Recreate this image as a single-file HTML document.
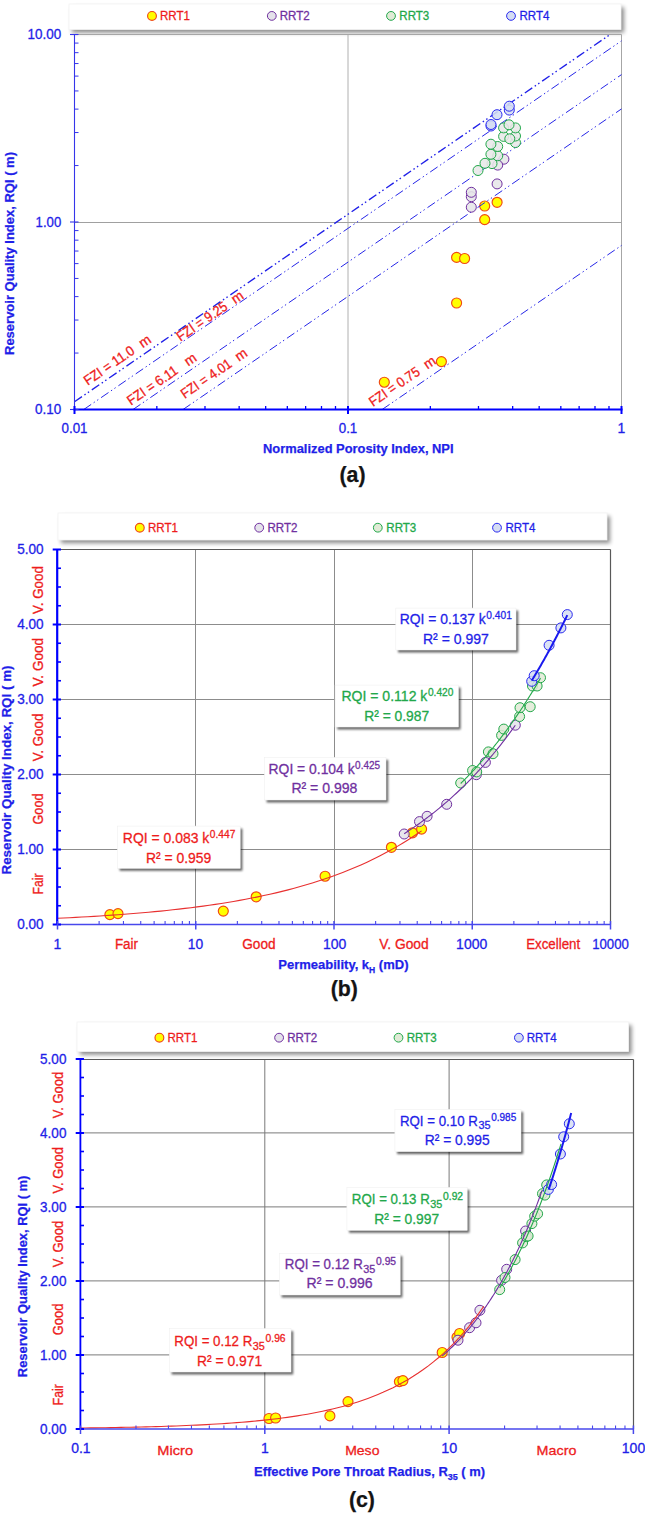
<!DOCTYPE html><html><head><meta charset="utf-8"><style>html,body{margin:0;padding:0;background:#fff;}svg{display:block;}text{font-family:"Liberation Sans",sans-serif;}</style></head><body>
<svg width="645" height="1514" viewBox="0 0 645 1514">
<defs><filter id="sh" x="-5%" y="-50%" width="110%" height="200%"><feGaussianBlur stdDeviation="2"/></filter><filter id="sh2" x="-20%" y="-50%" width="140%" height="200%"><feGaussianBlur stdDeviation="1.3"/></filter></defs>
<rect width="645" height="1514" fill="#fff"/>
<rect x="72.00" y="7.20" width="552.00" height="25.50" fill="#000" opacity="0.45" filter="url(#sh)"/>
<rect x="69.00" y="4.00" width="552.00" height="25.50" fill="#fff" stroke="#f3f3f3" stroke-width="0.8"/>
<circle cx="152.00" cy="15.90" r="4.4" fill="#ffff00" stroke="#f04a14" stroke-width="1.15"/>
<text x="160.00" y="20.20" font-size="13" fill="#ee1c1c" text-anchor="start" stroke="#ee1c1c" stroke-width="0.3" textLength="30.00" lengthAdjust="spacingAndGlyphs">RRT1</text>
<circle cx="271.80" cy="15.90" r="4.4" fill="#e4e2ea" stroke="#7030a0" stroke-width="1"/>
<text x="279.70" y="20.20" font-size="13" fill="#7030a0" text-anchor="start" stroke="#7030a0" stroke-width="0.3" textLength="30.00" lengthAdjust="spacingAndGlyphs">RRT2</text>
<circle cx="391.00" cy="15.90" r="4.4" fill="#e0ead6" stroke="#22a84a" stroke-width="1"/>
<text x="399.30" y="20.20" font-size="13" fill="#22a84a" text-anchor="start" stroke="#22a84a" stroke-width="0.3" textLength="30.00" lengthAdjust="spacingAndGlyphs">RRT3</text>
<circle cx="511.00" cy="15.90" r="4.4" fill="#d5ddf2" stroke="#2a2af0" stroke-width="1"/>
<text x="519.40" y="20.20" font-size="13" fill="#1f1fe8" text-anchor="start" stroke="#1f1fe8" stroke-width="0.3" textLength="30.00" lengthAdjust="spacingAndGlyphs">RRT4</text>
<line x1="348.00" y1="34.50" x2="348.00" y2="409.50" stroke="#b0b0b0" stroke-width="1"/>
<line x1="74.50" y1="222.50" x2="621.50" y2="222.50" stroke="#a0a0a0" stroke-width="1"/>
<line x1="621.50" y1="34.50" x2="621.50" y2="409.50" stroke="#a6a6a6" stroke-width="1"/>
<line x1="74.50" y1="34.50" x2="621.50" y2="34.50" stroke="#a6a6a6" stroke-width="1"/>
<circle cx="384.30" cy="382.20" r="5.0" fill="#ffff00" stroke="#f04a14" stroke-width="1.15"/>
<circle cx="441.40" cy="361.60" r="5.0" fill="#ffff00" stroke="#f04a14" stroke-width="1.15"/>
<circle cx="456.60" cy="303.00" r="5.0" fill="#ffff00" stroke="#f04a14" stroke-width="1.15"/>
<circle cx="456.60" cy="257.40" r="5.0" fill="#ffff00" stroke="#f04a14" stroke-width="1.15"/>
<circle cx="464.60" cy="258.50" r="5.0" fill="#ffff00" stroke="#f04a14" stroke-width="1.15"/>
<circle cx="484.70" cy="219.60" r="5.0" fill="#ffff00" stroke="#f04a14" stroke-width="1.15"/>
<circle cx="484.70" cy="206.00" r="5.0" fill="#ffff00" stroke="#f04a14" stroke-width="1.15"/>
<circle cx="497.10" cy="202.30" r="5.0" fill="#ffff00" stroke="#f04a14" stroke-width="1.15"/>
<line x1="74.50" y1="401.74" x2="610.18" y2="34.50" stroke="#2020e8" stroke-width="1.35" stroke-dasharray="9 3 1.5 2.7 1.5 3.3"/>
<line x1="83.76" y1="409.50" x2="621.50" y2="40.85" stroke="#2626e8" stroke-width="1.0" stroke-dasharray="9 3 1.4 2.8 1.4 3.4"/>
<line x1="133.02" y1="409.50" x2="621.50" y2="74.62" stroke="#2626e8" stroke-width="1.0" stroke-dasharray="9 3 1.4 2.8 1.4 3.4"/>
<line x1="183.04" y1="409.50" x2="621.50" y2="108.91" stroke="#2626e8" stroke-width="1.0" stroke-dasharray="9 3 1.4 2.8 1.4 3.4"/>
<line x1="382.17" y1="409.50" x2="621.50" y2="245.43" stroke="#2626e8" stroke-width="1.0" stroke-dasharray="9 3 1.4 2.8 1.4 3.4"/>
<circle cx="503.90" cy="159.20" r="5.0" fill="#e6e6e8" stroke="#7030a0" stroke-width="1" fill-opacity="0.88"/>
<circle cx="497.70" cy="165.10" r="5.0" fill="#e6e6e8" stroke="#7030a0" stroke-width="1" fill-opacity="0.88"/>
<circle cx="497.10" cy="183.90" r="5.0" fill="#e6e6e8" stroke="#7030a0" stroke-width="1" fill-opacity="0.88"/>
<circle cx="471.30" cy="207.20" r="5.0" fill="#e6e6e8" stroke="#7030a0" stroke-width="1" fill-opacity="0.88"/>
<circle cx="471.30" cy="196.70" r="5.0" fill="#e6e6e8" stroke="#7030a0" stroke-width="1" fill-opacity="0.88"/>
<circle cx="471.30" cy="192.30" r="5.0" fill="#e6e6e8" stroke="#7030a0" stroke-width="1" fill-opacity="0.88"/>
<circle cx="478.00" cy="170.50" r="5.0" fill="#e8e8e8" stroke="#22a84a" stroke-width="1" fill-opacity="0.88"/>
<circle cx="492.00" cy="163.60" r="5.0" fill="#e8e8e8" stroke="#22a84a" stroke-width="1" fill-opacity="0.88"/>
<circle cx="485.00" cy="163.30" r="5.0" fill="#e8e8e8" stroke="#22a84a" stroke-width="1" fill-opacity="0.88"/>
<circle cx="497.70" cy="155.80" r="5.0" fill="#e8e8e8" stroke="#22a84a" stroke-width="1" fill-opacity="0.88"/>
<circle cx="490.90" cy="154.30" r="5.0" fill="#e8e8e8" stroke="#22a84a" stroke-width="1" fill-opacity="0.88"/>
<circle cx="497.70" cy="146.50" r="5.0" fill="#e8e8e8" stroke="#22a84a" stroke-width="1" fill-opacity="0.88"/>
<circle cx="490.90" cy="144.20" r="5.0" fill="#e8e8e8" stroke="#22a84a" stroke-width="1" fill-opacity="0.88"/>
<circle cx="515.50" cy="142.60" r="5.0" fill="#e8e8e8" stroke="#22a84a" stroke-width="1" fill-opacity="0.88"/>
<circle cx="515.50" cy="136.00" r="5.0" fill="#e8e8e8" stroke="#22a84a" stroke-width="1" fill-opacity="0.88"/>
<circle cx="503.60" cy="136.40" r="5.0" fill="#e8e8e8" stroke="#22a84a" stroke-width="1" fill-opacity="0.88"/>
<circle cx="509.80" cy="138.80" r="5.0" fill="#e8e8e8" stroke="#22a84a" stroke-width="1" fill-opacity="0.88"/>
<circle cx="515.50" cy="127.90" r="5.0" fill="#e8e8e8" stroke="#22a84a" stroke-width="1" fill-opacity="0.88"/>
<circle cx="503.60" cy="127.90" r="5.0" fill="#e8e8e8" stroke="#22a84a" stroke-width="1" fill-opacity="0.88"/>
<circle cx="509.00" cy="124.80" r="5.0" fill="#e8e8e8" stroke="#22a84a" stroke-width="1" fill-opacity="0.88"/>
<circle cx="491.00" cy="126.00" r="5.0" fill="#d5ddf2" stroke="#2a2af0" stroke-width="1" fill-opacity="0.88"/>
<circle cx="491.00" cy="124.50" r="5.0" fill="#d5ddf2" stroke="#2a2af0" stroke-width="1" fill-opacity="0.88"/>
<circle cx="497.00" cy="114.70" r="5.0" fill="#d5ddf2" stroke="#2a2af0" stroke-width="1" fill-opacity="0.88"/>
<circle cx="509.30" cy="110.10" r="5.0" fill="#d5ddf2" stroke="#2a2af0" stroke-width="1" fill-opacity="0.88"/>
<circle cx="509.30" cy="106.20" r="5.0" fill="#d5ddf2" stroke="#2a2af0" stroke-width="1" fill-opacity="0.88"/>
<text x="87.76" y="385.83" font-size="14" fill="#ee1c1c" text-anchor="start" stroke="#ee1c1c" stroke-width="0.3" textLength="58.20" lengthAdjust="spacingAndGlyphs" transform="rotate(-34.43 87.76 385.83)">FZI = 11.0</text>
<text x="147.40" y="344.94" font-size="14" fill="#ee1c1c" text-anchor="middle" stroke="#ee1c1c" stroke-width="0.3" textLength="11.50" lengthAdjust="spacingAndGlyphs" transform="rotate(-34.43 147.40 344.94)">m</text>
<text x="180.64" y="341.79" font-size="14" fill="#ee1c1c" text-anchor="start" stroke="#ee1c1c" stroke-width="0.3" textLength="58.30" lengthAdjust="spacingAndGlyphs" transform="rotate(-34.43 180.64 341.79)">FZI = 9.25</text>
<text x="240.02" y="301.08" font-size="14" fill="#ee1c1c" text-anchor="middle" stroke="#ee1c1c" stroke-width="0.3" textLength="11.50" lengthAdjust="spacingAndGlyphs" transform="rotate(-34.43 240.02 301.08)">m</text>
<text x="131.02" y="405.71" font-size="14" fill="#ee1c1c" text-anchor="start" stroke="#ee1c1c" stroke-width="0.3" textLength="58.20" lengthAdjust="spacingAndGlyphs" transform="rotate(-34.43 131.02 405.71)">FZI = 6.11</text>
<text x="192.93" y="363.27" font-size="14" fill="#ee1c1c" text-anchor="middle" stroke="#ee1c1c" stroke-width="0.3" textLength="11.50" lengthAdjust="spacingAndGlyphs" transform="rotate(-34.43 192.93 363.27)">m</text>
<text x="184.72" y="399.01" font-size="14" fill="#ee1c1c" text-anchor="start" stroke="#ee1c1c" stroke-width="0.3" textLength="58.30" lengthAdjust="spacingAndGlyphs" transform="rotate(-34.43 184.72 399.01)">FZI = 4.01</text>
<text x="243.77" y="358.53" font-size="14" fill="#ee1c1c" text-anchor="middle" stroke="#ee1c1c" stroke-width="0.3" textLength="11.50" lengthAdjust="spacingAndGlyphs" transform="rotate(-34.43 243.77 358.53)">m</text>
<text x="372.92" y="407.04" font-size="14" fill="#ee1c1c" text-anchor="start" stroke="#ee1c1c" stroke-width="0.3" textLength="58.30" lengthAdjust="spacingAndGlyphs" transform="rotate(-34.43 372.92 407.04)">FZI = 0.75</text>
<text x="432.31" y="366.32" font-size="14" fill="#ee1c1c" text-anchor="middle" stroke="#ee1c1c" stroke-width="0.3" textLength="11.50" lengthAdjust="spacingAndGlyphs" transform="rotate(-34.43 432.31 366.32)">m</text>
<line x1="74.50" y1="34.50" x2="74.50" y2="409.50" stroke="#3535ea" stroke-width="1.1"/>
<line x1="73.50" y1="409.50" x2="622.50" y2="409.50" stroke="#0000ff" stroke-width="2"/>
<line x1="74.50" y1="353.06" x2="78.50" y2="353.06" stroke="#3535ea" stroke-width="1"/>
<line x1="74.50" y1="320.04" x2="78.50" y2="320.04" stroke="#3535ea" stroke-width="1"/>
<line x1="74.50" y1="296.61" x2="78.50" y2="296.61" stroke="#3535ea" stroke-width="1"/>
<line x1="74.50" y1="278.44" x2="78.50" y2="278.44" stroke="#3535ea" stroke-width="1"/>
<line x1="74.50" y1="263.60" x2="78.50" y2="263.60" stroke="#3535ea" stroke-width="1"/>
<line x1="74.50" y1="251.04" x2="78.50" y2="251.04" stroke="#3535ea" stroke-width="1"/>
<line x1="74.50" y1="240.17" x2="78.50" y2="240.17" stroke="#3535ea" stroke-width="1"/>
<line x1="74.50" y1="230.58" x2="78.50" y2="230.58" stroke="#3535ea" stroke-width="1"/>
<line x1="74.50" y1="165.56" x2="78.50" y2="165.56" stroke="#3535ea" stroke-width="1"/>
<line x1="74.50" y1="132.54" x2="78.50" y2="132.54" stroke="#3535ea" stroke-width="1"/>
<line x1="74.50" y1="109.11" x2="78.50" y2="109.11" stroke="#3535ea" stroke-width="1"/>
<line x1="74.50" y1="90.94" x2="78.50" y2="90.94" stroke="#3535ea" stroke-width="1"/>
<line x1="74.50" y1="76.10" x2="78.50" y2="76.10" stroke="#3535ea" stroke-width="1"/>
<line x1="74.50" y1="63.54" x2="78.50" y2="63.54" stroke="#3535ea" stroke-width="1"/>
<line x1="74.50" y1="52.67" x2="78.50" y2="52.67" stroke="#3535ea" stroke-width="1"/>
<line x1="74.50" y1="43.08" x2="78.50" y2="43.08" stroke="#3535ea" stroke-width="1"/>
<line x1="70.00" y1="409.50" x2="78.50" y2="409.50" stroke="#3535ea" stroke-width="1.1"/>
<line x1="70.00" y1="222.00" x2="78.50" y2="222.00" stroke="#3535ea" stroke-width="1.1"/>
<line x1="70.00" y1="34.50" x2="78.50" y2="34.50" stroke="#3535ea" stroke-width="1.1"/>
<line x1="156.83" y1="409.50" x2="156.83" y2="406.00" stroke="#0000ff" stroke-width="1.3"/>
<line x1="204.99" y1="409.50" x2="204.99" y2="406.00" stroke="#0000ff" stroke-width="1.3"/>
<line x1="239.16" y1="409.50" x2="239.16" y2="406.00" stroke="#0000ff" stroke-width="1.3"/>
<line x1="265.67" y1="409.50" x2="265.67" y2="406.00" stroke="#0000ff" stroke-width="1.3"/>
<line x1="287.32" y1="409.50" x2="287.32" y2="406.00" stroke="#0000ff" stroke-width="1.3"/>
<line x1="305.63" y1="409.50" x2="305.63" y2="406.00" stroke="#0000ff" stroke-width="1.3"/>
<line x1="321.50" y1="409.50" x2="321.50" y2="406.00" stroke="#0000ff" stroke-width="1.3"/>
<line x1="335.49" y1="409.50" x2="335.49" y2="406.00" stroke="#0000ff" stroke-width="1.3"/>
<line x1="430.33" y1="409.50" x2="430.33" y2="406.00" stroke="#0000ff" stroke-width="1.3"/>
<line x1="478.49" y1="409.50" x2="478.49" y2="406.00" stroke="#0000ff" stroke-width="1.3"/>
<line x1="512.66" y1="409.50" x2="512.66" y2="406.00" stroke="#0000ff" stroke-width="1.3"/>
<line x1="539.17" y1="409.50" x2="539.17" y2="406.00" stroke="#0000ff" stroke-width="1.3"/>
<line x1="560.82" y1="409.50" x2="560.82" y2="406.00" stroke="#0000ff" stroke-width="1.3"/>
<line x1="579.13" y1="409.50" x2="579.13" y2="406.00" stroke="#0000ff" stroke-width="1.3"/>
<line x1="595.00" y1="409.50" x2="595.00" y2="406.00" stroke="#0000ff" stroke-width="1.3"/>
<line x1="608.99" y1="409.50" x2="608.99" y2="406.00" stroke="#0000ff" stroke-width="1.3"/>
<line x1="74.50" y1="406.00" x2="74.50" y2="414.00" stroke="#0000ff" stroke-width="2"/>
<line x1="348.00" y1="406.00" x2="348.00" y2="414.00" stroke="#0000ff" stroke-width="2"/>
<line x1="621.50" y1="406.00" x2="621.50" y2="414.00" stroke="#0000ff" stroke-width="2"/>
<text x="61.20" y="39.10" font-size="14" fill="#1f1fe8" text-anchor="end" stroke="#1f1fe8" stroke-width="0.3" textLength="33.60" lengthAdjust="spacingAndGlyphs">10.00</text>
<text x="61.20" y="226.60" font-size="14" fill="#1f1fe8" text-anchor="end" stroke="#1f1fe8" stroke-width="0.3" textLength="25.60" lengthAdjust="spacingAndGlyphs">1.00</text>
<text x="61.20" y="414.10" font-size="14" fill="#1f1fe8" text-anchor="end" stroke="#1f1fe8" stroke-width="0.3" textLength="26.20" lengthAdjust="spacingAndGlyphs">0.10</text>
<text x="74.50" y="433.40" font-size="14" fill="#1f1fe8" text-anchor="middle" stroke="#1f1fe8" stroke-width="0.3" textLength="26.00" lengthAdjust="spacingAndGlyphs">0.01</text>
<text x="348.00" y="433.40" font-size="14" fill="#1f1fe8" text-anchor="middle" stroke="#1f1fe8" stroke-width="0.3" textLength="18.60" lengthAdjust="spacingAndGlyphs">0.1</text>
<text x="621.50" y="433.40" font-size="14" fill="#1f1fe8" text-anchor="middle" stroke="#1f1fe8" stroke-width="0.3">1</text>
<text x="358.30" y="452.90" font-size="13" fill="#1f1fe8" text-anchor="middle" font-weight="bold" stroke="#1f1fe8" stroke-width="0.25" textLength="190.50" lengthAdjust="spacingAndGlyphs">Normalized Porosity Index, NPI</text>
<text x="14.20" y="253.50" font-size="13" fill="#1f1fe8" text-anchor="middle" font-weight="bold" stroke="#1f1fe8" stroke-width="0.25" textLength="203.00" lengthAdjust="spacingAndGlyphs" transform="rotate(-90 14.20 253.50)">Reservoir Quality Index, RQI ( m)</text>
<text x="352.50" y="481.70" font-size="21.3" fill="#141414" text-anchor="middle" font-weight="bold" stroke="#141414" stroke-width="0.25">(a)</text>
<rect x="61.00" y="516.20" width="549.00" height="27.00" fill="#000" opacity="0.45" filter="url(#sh)"/>
<rect x="58.00" y="513.00" width="549.00" height="27.00" fill="#fff" stroke="#f3f3f3" stroke-width="0.8"/>
<circle cx="139.80" cy="527.70" r="4.4" fill="#ffff00" stroke="#f04a14" stroke-width="1.15"/>
<text x="148.00" y="532.00" font-size="13" fill="#ee1c1c" text-anchor="start" stroke="#ee1c1c" stroke-width="0.3" textLength="30.00" lengthAdjust="spacingAndGlyphs">RRT1</text>
<circle cx="259.20" cy="527.70" r="4.4" fill="#e4e2ea" stroke="#7030a0" stroke-width="1"/>
<text x="267.40" y="532.00" font-size="13" fill="#7030a0" text-anchor="start" stroke="#7030a0" stroke-width="0.3" textLength="30.00" lengthAdjust="spacingAndGlyphs">RRT2</text>
<circle cx="377.80" cy="527.70" r="4.4" fill="#e0ead6" stroke="#22a84a" stroke-width="1"/>
<text x="386.30" y="532.00" font-size="13" fill="#22a84a" text-anchor="start" stroke="#22a84a" stroke-width="0.3" textLength="30.00" lengthAdjust="spacingAndGlyphs">RRT3</text>
<circle cx="497.00" cy="527.70" r="4.4" fill="#d5ddf2" stroke="#2a2af0" stroke-width="1"/>
<text x="505.50" y="532.00" font-size="13" fill="#1f1fe8" text-anchor="start" stroke="#1f1fe8" stroke-width="0.3" textLength="30.00" lengthAdjust="spacingAndGlyphs">RRT4</text>
<line x1="57.50" y1="849.50" x2="610.50" y2="849.50" stroke="#8c8c8c" stroke-width="1"/>
<line x1="57.50" y1="774.50" x2="610.50" y2="774.50" stroke="#8c8c8c" stroke-width="1"/>
<line x1="57.50" y1="699.50" x2="610.50" y2="699.50" stroke="#8c8c8c" stroke-width="1"/>
<line x1="57.50" y1="624.50" x2="610.50" y2="624.50" stroke="#8c8c8c" stroke-width="1"/>
<line x1="195.50" y1="549.50" x2="195.50" y2="924.50" stroke="#8c8c8c" stroke-width="1"/>
<line x1="334.50" y1="549.50" x2="334.50" y2="924.50" stroke="#8c8c8c" stroke-width="1"/>
<line x1="472.50" y1="549.50" x2="472.50" y2="924.50" stroke="#8c8c8c" stroke-width="1"/>
<line x1="57.50" y1="549.50" x2="610.50" y2="549.50" stroke="#595959" stroke-width="1.2"/>
<line x1="610.50" y1="549.50" x2="610.50" y2="924.50" stroke="#595959" stroke-width="1.2"/>
<circle cx="109.90" cy="914.60" r="5.0" fill="#ffff00" stroke="#f04a14" stroke-width="1.15"/>
<circle cx="118.00" cy="913.60" r="5.0" fill="#ffff00" stroke="#f04a14" stroke-width="1.15"/>
<circle cx="223.30" cy="911.10" r="5.0" fill="#ffff00" stroke="#f04a14" stroke-width="1.15"/>
<circle cx="256.20" cy="896.80" r="5.0" fill="#ffff00" stroke="#f04a14" stroke-width="1.15"/>
<circle cx="325.10" cy="876.20" r="5.0" fill="#ffff00" stroke="#f04a14" stroke-width="1.15"/>
<circle cx="391.40" cy="847.30" r="5.0" fill="#ffff00" stroke="#f04a14" stroke-width="1.15"/>
<circle cx="412.50" cy="832.80" r="5.0" fill="#ffff00" stroke="#f04a14" stroke-width="1.15"/>
<circle cx="421.60" cy="829.10" r="5.0" fill="#ffff00" stroke="#f04a14" stroke-width="1.15"/>
<circle cx="404.20" cy="834.00" r="5.0" fill="#e4e2ea" stroke="#7030a0" stroke-width="1" fill-opacity="0.85"/>
<circle cx="419.50" cy="821.60" r="5.0" fill="#e4e2ea" stroke="#7030a0" stroke-width="1" fill-opacity="0.85"/>
<circle cx="427.10" cy="816.30" r="5.0" fill="#e4e2ea" stroke="#7030a0" stroke-width="1" fill-opacity="0.85"/>
<circle cx="446.70" cy="804.30" r="5.0" fill="#e4e2ea" stroke="#7030a0" stroke-width="1" fill-opacity="0.85"/>
<circle cx="476.30" cy="774.70" r="5.0" fill="#e4e2ea" stroke="#7030a0" stroke-width="1" fill-opacity="0.85"/>
<circle cx="485.40" cy="762.40" r="5.0" fill="#e4e2ea" stroke="#7030a0" stroke-width="1" fill-opacity="0.85"/>
<circle cx="515.30" cy="725.20" r="5.0" fill="#e4e2ea" stroke="#7030a0" stroke-width="1" fill-opacity="0.85"/>
<circle cx="460.70" cy="783.00" r="5.0" fill="#e0ead6" stroke="#22a84a" stroke-width="1" fill-opacity="0.85"/>
<circle cx="472.60" cy="770.50" r="5.0" fill="#e0ead6" stroke="#22a84a" stroke-width="1" fill-opacity="0.85"/>
<circle cx="476.70" cy="771.90" r="5.0" fill="#e0ead6" stroke="#22a84a" stroke-width="1" fill-opacity="0.85"/>
<circle cx="488.40" cy="751.90" r="5.0" fill="#e0ead6" stroke="#22a84a" stroke-width="1" fill-opacity="0.85"/>
<circle cx="493.00" cy="753.70" r="5.0" fill="#e0ead6" stroke="#22a84a" stroke-width="1" fill-opacity="0.85"/>
<circle cx="501.60" cy="735.40" r="5.0" fill="#e0ead6" stroke="#22a84a" stroke-width="1" fill-opacity="0.85"/>
<circle cx="503.80" cy="729.10" r="5.0" fill="#e0ead6" stroke="#22a84a" stroke-width="1" fill-opacity="0.85"/>
<circle cx="519.60" cy="716.50" r="5.0" fill="#e0ead6" stroke="#22a84a" stroke-width="1" fill-opacity="0.85"/>
<circle cx="520.00" cy="707.70" r="5.0" fill="#e0ead6" stroke="#22a84a" stroke-width="1" fill-opacity="0.85"/>
<circle cx="530.20" cy="706.70" r="5.0" fill="#e0ead6" stroke="#22a84a" stroke-width="1" fill-opacity="0.85"/>
<circle cx="532.50" cy="686.00" r="5.0" fill="#e0ead6" stroke="#22a84a" stroke-width="1" fill-opacity="0.85"/>
<circle cx="537.10" cy="686.00" r="5.0" fill="#e0ead6" stroke="#22a84a" stroke-width="1" fill-opacity="0.85"/>
<circle cx="540.50" cy="677.70" r="5.0" fill="#e0ead6" stroke="#22a84a" stroke-width="1" fill-opacity="0.85"/>
<circle cx="531.70" cy="681.30" r="5.0" fill="#d5ddf2" stroke="#2a2af0" stroke-width="1" fill-opacity="0.85"/>
<circle cx="534.20" cy="675.70" r="5.0" fill="#d5ddf2" stroke="#2a2af0" stroke-width="1" fill-opacity="0.85"/>
<circle cx="549.10" cy="645.30" r="5.0" fill="#d5ddf2" stroke="#2a2af0" stroke-width="1" fill-opacity="0.85"/>
<circle cx="560.90" cy="627.90" r="5.0" fill="#d5ddf2" stroke="#2a2af0" stroke-width="1" fill-opacity="0.85"/>
<circle cx="567.30" cy="614.60" r="5.0" fill="#d5ddf2" stroke="#2a2af0" stroke-width="1" fill-opacity="0.85"/>
<polyline points="57.50,918.27 63.57,917.99 69.64,917.69 75.70,917.37 81.77,917.04 87.84,916.70 93.91,916.34 99.98,915.96 106.05,915.56 112.12,915.15 118.18,914.72 124.25,914.27 130.32,913.80 136.39,913.30 142.46,912.78 148.53,912.24 154.59,911.67 160.66,911.08 166.73,910.46 172.80,909.81 178.87,909.13 184.94,908.42 191.00,907.68 197.07,906.90 203.14,906.09 209.21,905.24 215.28,904.35 221.34,903.42 227.41,902.44 233.48,901.43 239.55,900.36 245.62,899.24 251.69,898.08 257.75,896.85 263.82,895.58 269.89,894.24 275.96,892.84 282.03,891.38 288.10,889.85 294.17,888.25 300.23,886.57 306.30,884.82 312.37,882.99 318.44,881.07 324.51,879.06 330.57,876.96 336.64,874.76 342.71,872.46 348.78,870.06 354.85,867.54 360.92,864.91 366.99,862.16 373.05,859.28 379.12,856.26 385.19,853.11 391.26,849.81 397.33,846.36 403.40,842.75 409.46,838.97 415.53,835.01 421.60,830.88" fill="none" stroke="#e83030" stroke-width="1.1"/>
<polyline points="404.20,833.74 406.05,832.54 407.90,831.33 409.75,830.10 411.61,828.85 413.46,827.59 415.31,826.31 417.16,825.02 419.01,823.71 420.87,822.38 422.72,821.03 424.57,819.66 426.42,818.28 428.27,816.88 430.12,815.46 431.97,814.02 433.83,812.56 435.68,811.09 437.53,809.59 439.38,808.07 441.23,806.54 443.08,804.98 444.94,803.40 446.79,801.81 448.64,800.19 450.49,798.55 452.34,796.89 454.19,795.20 456.05,793.50 457.90,791.77 459.75,790.02 461.60,788.24 463.45,786.44 465.30,784.62 467.16,782.78 469.01,780.91 470.86,779.01 472.71,777.09 474.56,775.15 476.41,773.18 478.27,771.18 480.12,769.16 481.97,767.11 483.82,765.03 485.67,762.93 487.52,760.80 489.38,758.64 491.23,756.45 493.08,754.23 494.93,751.99 496.78,749.71 498.63,747.41 500.49,745.07 502.34,742.70 504.19,740.30 506.04,737.87 507.89,735.41 509.74,732.92 511.60,730.39 513.45,727.83 515.30,725.23" fill="none" stroke="#7030a0" stroke-width="1.1"/>
<polyline points="460.70,783.51 462.03,782.19 463.36,780.86 464.69,779.52 466.02,778.16 467.35,776.80 468.68,775.42 470.01,774.02 471.34,772.62 472.67,771.20 474.00,769.76 475.33,768.32 476.66,766.86 477.99,765.38 479.32,763.90 480.65,762.39 481.98,760.88 483.31,759.35 484.64,757.81 485.97,756.25 487.30,754.68 488.63,753.09 489.96,751.49 491.29,749.87 492.62,748.24 493.95,746.59 495.28,744.93 496.61,743.25 497.94,741.55 499.27,739.84 500.60,738.12 501.93,736.38 503.26,734.62 504.59,732.84 505.92,731.05 507.25,729.24 508.58,727.42 509.91,725.57 511.24,723.72 512.57,721.84 513.90,719.94 515.23,718.03 516.56,716.10 517.89,714.15 519.22,712.19 520.55,710.20 521.88,708.20 523.21,706.18 524.54,704.14 525.87,702.08 527.20,700.00 528.53,697.90 529.86,695.78 531.19,693.65 532.52,691.49 533.85,689.31 535.18,687.11 536.51,684.89 537.84,682.65 539.17,680.39 540.50,678.11" fill="none" stroke="#22a84a" stroke-width="1.1"/>
<polyline points="531.70,680.60 532.29,679.63 532.89,678.66 533.48,677.68 534.07,676.70 534.67,675.72 535.26,674.73 535.85,673.74 536.45,672.74 537.04,671.74 537.63,670.74 538.23,669.73 538.82,668.72 539.41,667.70 540.01,666.68 540.60,665.66 541.19,664.63 541.79,663.60 542.38,662.56 542.97,661.52 543.57,660.48 544.16,659.43 544.75,658.38 545.35,657.32 545.94,656.26 546.53,655.20 547.13,654.13 547.72,653.05 548.31,651.97 548.91,650.89 549.50,649.81 550.09,648.72 550.69,647.62 551.28,646.52 551.87,645.42 552.47,644.31 553.06,643.20 553.65,642.08 554.25,640.96 554.84,639.83 555.43,638.70 556.03,637.57 556.62,636.43 557.21,635.28 557.81,634.14 558.40,632.98 558.99,631.83 559.59,630.66 560.18,629.50 560.77,628.33 561.37,627.15 561.96,625.97 562.55,624.78 563.15,623.59 563.74,622.40 564.33,621.20 564.93,619.99 565.52,618.79 566.11,617.57 566.71,616.35 567.30,615.13" fill="none" stroke="#1a1aee" stroke-width="2"/>
<rect x="119.60" y="828.60" width="122.80" height="42.20" fill="#000" opacity="0.6" filter="url(#sh2)"/>
<rect x="117.40" y="826.10" width="122.80" height="42.20" fill="#fff" stroke="#f0f0f0" stroke-width="0.6"/>
<text x="122.80" y="842.80" font-size="15.3" fill="#ee1c1c" text-anchor="start" stroke="#ee1c1c" stroke-width="0.3" textLength="86.50" lengthAdjust="spacingAndGlyphs">RQI = 0.083 k</text>
<text x="209.80" y="837.60" font-size="11" fill="#ee1c1c" text-anchor="start" stroke="#ee1c1c" stroke-width="0.3" textLength="25.50" lengthAdjust="spacingAndGlyphs">0.447</text>
<text x="145.90" y="862.60" font-size="15.3" fill="#ee1c1c" text-anchor="start" stroke="#ee1c1c" stroke-width="0.3" textLength="65.30" lengthAdjust="spacingAndGlyphs">R² = 0.959</text>
<rect x="266.60" y="759.90" width="121.60" height="42.60" fill="#000" opacity="0.6" filter="url(#sh2)"/>
<rect x="264.40" y="757.40" width="121.60" height="42.60" fill="#fff" stroke="#f0f0f0" stroke-width="0.6"/>
<text x="268.60" y="773.70" font-size="15.3" fill="#7030a0" text-anchor="start" stroke="#7030a0" stroke-width="0.3" textLength="86.00" lengthAdjust="spacingAndGlyphs">RQI = 0.104 k</text>
<text x="355.10" y="768.50" font-size="11" fill="#7030a0" text-anchor="start" stroke="#7030a0" stroke-width="0.3" textLength="25.00" lengthAdjust="spacingAndGlyphs">0.425</text>
<text x="291.40" y="793.00" font-size="15.3" fill="#7030a0" text-anchor="start" stroke="#7030a0" stroke-width="0.3" textLength="66.00" lengthAdjust="spacingAndGlyphs">R² = 0.998</text>
<rect x="337.30" y="687.60" width="123.30" height="41.90" fill="#000" opacity="0.6" filter="url(#sh2)"/>
<rect x="335.10" y="685.10" width="123.30" height="41.90" fill="#fff" stroke="#f0f0f0" stroke-width="0.6"/>
<text x="341.40" y="701.40" font-size="15.3" fill="#22a84a" text-anchor="start" stroke="#22a84a" stroke-width="0.3" textLength="86.00" lengthAdjust="spacingAndGlyphs">RQI = 0.112 k</text>
<text x="427.90" y="696.20" font-size="11" fill="#22a84a" text-anchor="start" stroke="#22a84a" stroke-width="0.3" textLength="25.50" lengthAdjust="spacingAndGlyphs">0.420</text>
<text x="364.20" y="721.20" font-size="15.3" fill="#22a84a" text-anchor="start" stroke="#22a84a" stroke-width="0.3" textLength="65.00" lengthAdjust="spacingAndGlyphs">R² = 0.987</text>
<rect x="398.00" y="610.60" width="120.20" height="41.90" fill="#000" opacity="0.6" filter="url(#sh2)"/>
<rect x="395.80" y="608.10" width="120.20" height="41.90" fill="#fff" stroke="#f0f0f0" stroke-width="0.6"/>
<text x="399.80" y="624.40" font-size="15.3" fill="#1f1fe8" text-anchor="start" stroke="#1f1fe8" stroke-width="0.3" textLength="86.00" lengthAdjust="spacingAndGlyphs">RQI = 0.137 k</text>
<text x="486.30" y="619.20" font-size="11" fill="#1f1fe8" text-anchor="start" stroke="#1f1fe8" stroke-width="0.3" textLength="25.50" lengthAdjust="spacingAndGlyphs">0.401</text>
<text x="423.00" y="644.20" font-size="15.3" fill="#1f1fe8" text-anchor="start" stroke="#1f1fe8" stroke-width="0.3" textLength="65.80" lengthAdjust="spacingAndGlyphs">R² = 0.997</text>
<line x1="57.20" y1="549.50" x2="57.20" y2="925.00" stroke="#0000ff" stroke-width="2.2"/>
<line x1="57.50" y1="924.50" x2="610.50" y2="924.50" stroke="#4848ec" stroke-width="1.5"/>
<line x1="52.70" y1="924.50" x2="61.00" y2="924.50" stroke="#0000ff" stroke-width="2"/>
<line x1="57.50" y1="905.75" x2="61.00" y2="905.75" stroke="#0000ff" stroke-width="1.6"/>
<line x1="57.50" y1="887.00" x2="61.00" y2="887.00" stroke="#0000ff" stroke-width="1.6"/>
<line x1="57.50" y1="868.25" x2="61.00" y2="868.25" stroke="#0000ff" stroke-width="1.6"/>
<line x1="52.70" y1="849.50" x2="61.00" y2="849.50" stroke="#0000ff" stroke-width="2"/>
<line x1="57.50" y1="830.75" x2="61.00" y2="830.75" stroke="#0000ff" stroke-width="1.6"/>
<line x1="57.50" y1="812.00" x2="61.00" y2="812.00" stroke="#0000ff" stroke-width="1.6"/>
<line x1="57.50" y1="793.25" x2="61.00" y2="793.25" stroke="#0000ff" stroke-width="1.6"/>
<line x1="52.70" y1="774.50" x2="61.00" y2="774.50" stroke="#0000ff" stroke-width="2"/>
<line x1="57.50" y1="755.75" x2="61.00" y2="755.75" stroke="#0000ff" stroke-width="1.6"/>
<line x1="57.50" y1="737.00" x2="61.00" y2="737.00" stroke="#0000ff" stroke-width="1.6"/>
<line x1="57.50" y1="718.25" x2="61.00" y2="718.25" stroke="#0000ff" stroke-width="1.6"/>
<line x1="52.70" y1="699.50" x2="61.00" y2="699.50" stroke="#0000ff" stroke-width="2"/>
<line x1="57.50" y1="680.75" x2="61.00" y2="680.75" stroke="#0000ff" stroke-width="1.6"/>
<line x1="57.50" y1="662.00" x2="61.00" y2="662.00" stroke="#0000ff" stroke-width="1.6"/>
<line x1="57.50" y1="643.25" x2="61.00" y2="643.25" stroke="#0000ff" stroke-width="1.6"/>
<line x1="52.70" y1="624.50" x2="61.00" y2="624.50" stroke="#0000ff" stroke-width="2"/>
<line x1="57.50" y1="605.75" x2="61.00" y2="605.75" stroke="#0000ff" stroke-width="1.6"/>
<line x1="57.50" y1="587.00" x2="61.00" y2="587.00" stroke="#0000ff" stroke-width="1.6"/>
<line x1="57.50" y1="568.25" x2="61.00" y2="568.25" stroke="#0000ff" stroke-width="1.6"/>
<line x1="52.70" y1="549.50" x2="61.00" y2="549.50" stroke="#0000ff" stroke-width="2"/>
<line x1="99.12" y1="924.50" x2="99.12" y2="921.00" stroke="#4848ec" stroke-width="1.1"/>
<line x1="123.46" y1="924.50" x2="123.46" y2="921.00" stroke="#4848ec" stroke-width="1.1"/>
<line x1="140.73" y1="924.50" x2="140.73" y2="921.00" stroke="#4848ec" stroke-width="1.1"/>
<line x1="154.13" y1="924.50" x2="154.13" y2="921.00" stroke="#4848ec" stroke-width="1.1"/>
<line x1="165.08" y1="924.50" x2="165.08" y2="921.00" stroke="#4848ec" stroke-width="1.1"/>
<line x1="174.33" y1="924.50" x2="174.33" y2="921.00" stroke="#4848ec" stroke-width="1.1"/>
<line x1="182.35" y1="924.50" x2="182.35" y2="921.00" stroke="#4848ec" stroke-width="1.1"/>
<line x1="189.42" y1="924.50" x2="189.42" y2="921.00" stroke="#4848ec" stroke-width="1.1"/>
<line x1="237.37" y1="924.50" x2="237.37" y2="921.00" stroke="#4848ec" stroke-width="1.1"/>
<line x1="261.71" y1="924.50" x2="261.71" y2="921.00" stroke="#4848ec" stroke-width="1.1"/>
<line x1="278.98" y1="924.50" x2="278.98" y2="921.00" stroke="#4848ec" stroke-width="1.1"/>
<line x1="292.38" y1="924.50" x2="292.38" y2="921.00" stroke="#4848ec" stroke-width="1.1"/>
<line x1="303.33" y1="924.50" x2="303.33" y2="921.00" stroke="#4848ec" stroke-width="1.1"/>
<line x1="312.58" y1="924.50" x2="312.58" y2="921.00" stroke="#4848ec" stroke-width="1.1"/>
<line x1="320.60" y1="924.50" x2="320.60" y2="921.00" stroke="#4848ec" stroke-width="1.1"/>
<line x1="327.67" y1="924.50" x2="327.67" y2="921.00" stroke="#4848ec" stroke-width="1.1"/>
<line x1="375.62" y1="924.50" x2="375.62" y2="921.00" stroke="#4848ec" stroke-width="1.1"/>
<line x1="399.96" y1="924.50" x2="399.96" y2="921.00" stroke="#4848ec" stroke-width="1.1"/>
<line x1="417.23" y1="924.50" x2="417.23" y2="921.00" stroke="#4848ec" stroke-width="1.1"/>
<line x1="430.63" y1="924.50" x2="430.63" y2="921.00" stroke="#4848ec" stroke-width="1.1"/>
<line x1="441.58" y1="924.50" x2="441.58" y2="921.00" stroke="#4848ec" stroke-width="1.1"/>
<line x1="450.83" y1="924.50" x2="450.83" y2="921.00" stroke="#4848ec" stroke-width="1.1"/>
<line x1="458.85" y1="924.50" x2="458.85" y2="921.00" stroke="#4848ec" stroke-width="1.1"/>
<line x1="465.92" y1="924.50" x2="465.92" y2="921.00" stroke="#4848ec" stroke-width="1.1"/>
<line x1="513.87" y1="924.50" x2="513.87" y2="921.00" stroke="#4848ec" stroke-width="1.1"/>
<line x1="538.21" y1="924.50" x2="538.21" y2="921.00" stroke="#4848ec" stroke-width="1.1"/>
<line x1="555.48" y1="924.50" x2="555.48" y2="921.00" stroke="#4848ec" stroke-width="1.1"/>
<line x1="568.88" y1="924.50" x2="568.88" y2="921.00" stroke="#4848ec" stroke-width="1.1"/>
<line x1="579.83" y1="924.50" x2="579.83" y2="921.00" stroke="#4848ec" stroke-width="1.1"/>
<line x1="589.08" y1="924.50" x2="589.08" y2="921.00" stroke="#4848ec" stroke-width="1.1"/>
<line x1="597.10" y1="924.50" x2="597.10" y2="921.00" stroke="#4848ec" stroke-width="1.1"/>
<line x1="604.17" y1="924.50" x2="604.17" y2="921.00" stroke="#4848ec" stroke-width="1.1"/>
<line x1="57.50" y1="921.00" x2="57.50" y2="929.50" stroke="#4848ec" stroke-width="1.5"/>
<line x1="195.75" y1="921.00" x2="195.75" y2="929.50" stroke="#4848ec" stroke-width="1.5"/>
<line x1="334.00" y1="921.00" x2="334.00" y2="929.50" stroke="#4848ec" stroke-width="1.5"/>
<line x1="472.25" y1="921.00" x2="472.25" y2="929.50" stroke="#4848ec" stroke-width="1.5"/>
<line x1="610.50" y1="921.00" x2="610.50" y2="929.50" stroke="#4848ec" stroke-width="1.5"/>
<text x="43.60" y="929.10" font-size="14" fill="#1f1fe8" text-anchor="end" stroke="#1f1fe8" stroke-width="0.3" textLength="26.40" lengthAdjust="spacingAndGlyphs">0.00</text>
<text x="43.60" y="854.10" font-size="14" fill="#1f1fe8" text-anchor="end" stroke="#1f1fe8" stroke-width="0.3" textLength="26.40" lengthAdjust="spacingAndGlyphs">1.00</text>
<text x="43.60" y="779.10" font-size="14" fill="#1f1fe8" text-anchor="end" stroke="#1f1fe8" stroke-width="0.3" textLength="26.40" lengthAdjust="spacingAndGlyphs">2.00</text>
<text x="43.60" y="704.10" font-size="14" fill="#1f1fe8" text-anchor="end" stroke="#1f1fe8" stroke-width="0.3" textLength="26.40" lengthAdjust="spacingAndGlyphs">3.00</text>
<text x="43.60" y="629.10" font-size="14" fill="#1f1fe8" text-anchor="end" stroke="#1f1fe8" stroke-width="0.3" textLength="26.40" lengthAdjust="spacingAndGlyphs">4.00</text>
<text x="43.60" y="554.10" font-size="14" fill="#1f1fe8" text-anchor="end" stroke="#1f1fe8" stroke-width="0.3" textLength="26.40" lengthAdjust="spacingAndGlyphs">5.00</text>
<text x="43.40" y="590.00" font-size="14" fill="#ee1c1c" text-anchor="middle" stroke="#ee1c1c" stroke-width="0.3" textLength="47.80" lengthAdjust="spacingAndGlyphs" transform="rotate(-90 43.40 590.00)">V. Good</text>
<text x="43.40" y="662.20" font-size="14" fill="#ee1c1c" text-anchor="middle" stroke="#ee1c1c" stroke-width="0.3" textLength="48.40" lengthAdjust="spacingAndGlyphs" transform="rotate(-90 43.40 662.20)">V. Good</text>
<text x="43.40" y="737.50" font-size="14" fill="#ee1c1c" text-anchor="middle" stroke="#ee1c1c" stroke-width="0.3" textLength="47.70" lengthAdjust="spacingAndGlyphs" transform="rotate(-90 43.40 737.50)">V. Good</text>
<text x="43.40" y="809.00" font-size="14" fill="#ee1c1c" text-anchor="middle" stroke="#ee1c1c" stroke-width="0.3" textLength="31.00" lengthAdjust="spacingAndGlyphs" transform="rotate(-90 43.40 809.00)">Good</text>
<text x="43.40" y="884.00" font-size="14" fill="#ee1c1c" text-anchor="middle" stroke="#ee1c1c" stroke-width="0.3" textLength="21.10" lengthAdjust="spacingAndGlyphs" transform="rotate(-90 43.40 884.00)">Fair</text>
<text x="57.30" y="948.50" font-size="14" fill="#1f1fe8" text-anchor="middle" stroke="#1f1fe8" stroke-width="0.3">1</text>
<text x="126.50" y="948.50" font-size="14" fill="#ee1c1c" text-anchor="middle" stroke="#ee1c1c" stroke-width="0.3" textLength="23.20" lengthAdjust="spacingAndGlyphs">Fair</text>
<text x="195.50" y="948.50" font-size="14" fill="#1f1fe8" text-anchor="middle" stroke="#1f1fe8" stroke-width="0.3" textLength="15.40" lengthAdjust="spacingAndGlyphs">10</text>
<text x="258.90" y="948.50" font-size="14" fill="#ee1c1c" text-anchor="middle" stroke="#ee1c1c" stroke-width="0.3" textLength="33.30" lengthAdjust="spacingAndGlyphs">Good</text>
<text x="334.60" y="948.50" font-size="14" fill="#1f1fe8" text-anchor="middle" stroke="#1f1fe8" stroke-width="0.3" textLength="23.40" lengthAdjust="spacingAndGlyphs">100</text>
<text x="404.00" y="948.50" font-size="14" fill="#ee1c1c" text-anchor="middle" stroke="#ee1c1c" stroke-width="0.3" textLength="49.40" lengthAdjust="spacingAndGlyphs">V. Good</text>
<text x="471.70" y="948.50" font-size="14" fill="#1f1fe8" text-anchor="middle" stroke="#1f1fe8" stroke-width="0.3" textLength="31.20" lengthAdjust="spacingAndGlyphs">1000</text>
<text x="553.20" y="948.50" font-size="14" fill="#ee1c1c" text-anchor="middle" stroke="#ee1c1c" stroke-width="0.3" textLength="54.00" lengthAdjust="spacingAndGlyphs">Excellent</text>
<text x="610.50" y="948.50" font-size="14" fill="#1f1fe8" text-anchor="middle" stroke="#1f1fe8" stroke-width="0.3" textLength="36.60" lengthAdjust="spacingAndGlyphs">10000</text>
<text x="278.3" y="969" font-size="13" font-weight="bold" fill="#1f1fe8" stroke="#1f1fe8" stroke-width="0.25">Permeability, k<tspan font-size="8.5" dy="3.5">H</tspan><tspan dy="-3.5"> (mD)</tspan></text>
<text x="10.90" y="770.00" font-size="13" fill="#1f1fe8" text-anchor="middle" font-weight="bold" stroke="#1f1fe8" stroke-width="0.25" textLength="209.00" lengthAdjust="spacingAndGlyphs" transform="rotate(-90 10.90 770.00)">Reservoir Quality Index, RQI ( m)</text>
<text x="344.30" y="996.00" font-size="21.3" fill="#141414" text-anchor="middle" font-weight="bold" stroke="#141414" stroke-width="0.25">(b)</text>
<rect x="80.00" y="1025.20" width="551.60" height="29.50" fill="#000" opacity="0.45" filter="url(#sh)"/>
<rect x="77.00" y="1022.00" width="551.60" height="29.50" fill="#fff" stroke="#f3f3f3" stroke-width="0.8"/>
<circle cx="159.40" cy="1037.70" r="4.4" fill="#ffff00" stroke="#f04a14" stroke-width="1.15"/>
<text x="167.40" y="1042.00" font-size="13" fill="#ee1c1c" text-anchor="start" stroke="#ee1c1c" stroke-width="0.3" textLength="30.00" lengthAdjust="spacingAndGlyphs">RRT1</text>
<circle cx="279.10" cy="1037.70" r="4.4" fill="#e4e2ea" stroke="#7030a0" stroke-width="1"/>
<text x="287.20" y="1042.00" font-size="13" fill="#7030a0" text-anchor="start" stroke="#7030a0" stroke-width="0.3" textLength="30.00" lengthAdjust="spacingAndGlyphs">RRT2</text>
<circle cx="398.50" cy="1037.70" r="4.4" fill="#e0ead6" stroke="#22a84a" stroke-width="1"/>
<text x="406.70" y="1042.00" font-size="13" fill="#22a84a" text-anchor="start" stroke="#22a84a" stroke-width="0.3" textLength="30.00" lengthAdjust="spacingAndGlyphs">RRT3</text>
<circle cx="518.90" cy="1037.70" r="4.4" fill="#d5ddf2" stroke="#2a2af0" stroke-width="1"/>
<text x="526.70" y="1042.00" font-size="13" fill="#1f1fe8" text-anchor="start" stroke="#1f1fe8" stroke-width="0.3" textLength="30.00" lengthAdjust="spacingAndGlyphs">RRT4</text>
<line x1="80.50" y1="1354.90" x2="633.40" y2="1354.90" stroke="#7a7a7a" stroke-width="1"/>
<line x1="80.50" y1="1280.90" x2="633.40" y2="1280.90" stroke="#7a7a7a" stroke-width="1"/>
<line x1="80.50" y1="1206.90" x2="633.40" y2="1206.90" stroke="#7a7a7a" stroke-width="1"/>
<line x1="80.50" y1="1132.90" x2="633.40" y2="1132.90" stroke="#7a7a7a" stroke-width="1"/>
<line x1="264.80" y1="1059.00" x2="264.80" y2="1429.00" stroke="#7a7a7a" stroke-width="1"/>
<line x1="449.10" y1="1059.00" x2="449.10" y2="1429.00" stroke="#7a7a7a" stroke-width="1"/>
<line x1="80.50" y1="1059.50" x2="633.50" y2="1059.50" stroke="#595959" stroke-width="1.2"/>
<line x1="633.50" y1="1059.50" x2="633.50" y2="1429.00" stroke="#595959" stroke-width="1.2"/>
<circle cx="269.00" cy="1418.50" r="5.0" fill="#ffff00" stroke="#f04a14" stroke-width="1.15"/>
<circle cx="275.60" cy="1418.00" r="5.0" fill="#ffff00" stroke="#f04a14" stroke-width="1.15"/>
<circle cx="329.90" cy="1415.90" r="5.0" fill="#ffff00" stroke="#f04a14" stroke-width="1.15"/>
<circle cx="348.00" cy="1401.60" r="5.0" fill="#ffff00" stroke="#f04a14" stroke-width="1.15"/>
<circle cx="399.40" cy="1381.60" r="5.0" fill="#ffff00" stroke="#f04a14" stroke-width="1.15"/>
<circle cx="402.90" cy="1380.60" r="5.0" fill="#ffff00" stroke="#f04a14" stroke-width="1.15"/>
<circle cx="442.20" cy="1352.50" r="5.0" fill="#ffff00" stroke="#f04a14" stroke-width="1.15"/>
<circle cx="457.00" cy="1337.20" r="5.0" fill="#ffff00" stroke="#f04a14" stroke-width="1.15"/>
<circle cx="459.60" cy="1333.50" r="5.0" fill="#ffff00" stroke="#f04a14" stroke-width="1.15"/>
<circle cx="458.00" cy="1340.20" r="5.0" fill="#e4e2ea" stroke="#7030a0" stroke-width="1" fill-opacity="0.85"/>
<circle cx="469.60" cy="1327.70" r="5.0" fill="#e4e2ea" stroke="#7030a0" stroke-width="1" fill-opacity="0.85"/>
<circle cx="476.00" cy="1322.80" r="5.0" fill="#e4e2ea" stroke="#7030a0" stroke-width="1" fill-opacity="0.85"/>
<circle cx="479.90" cy="1310.30" r="5.0" fill="#e4e2ea" stroke="#7030a0" stroke-width="1" fill-opacity="0.85"/>
<circle cx="501.60" cy="1280.30" r="5.0" fill="#e4e2ea" stroke="#7030a0" stroke-width="1" fill-opacity="0.85"/>
<circle cx="506.70" cy="1269.30" r="5.0" fill="#e4e2ea" stroke="#7030a0" stroke-width="1" fill-opacity="0.85"/>
<circle cx="525.60" cy="1231.00" r="5.0" fill="#e4e2ea" stroke="#7030a0" stroke-width="1" fill-opacity="0.85"/>
<circle cx="499.70" cy="1289.60" r="5.0" fill="#e0ead6" stroke="#22a84a" stroke-width="1" fill-opacity="0.85"/>
<circle cx="505.00" cy="1277.50" r="5.0" fill="#e0ead6" stroke="#22a84a" stroke-width="1" fill-opacity="0.85"/>
<circle cx="515.10" cy="1259.60" r="5.0" fill="#e0ead6" stroke="#22a84a" stroke-width="1" fill-opacity="0.85"/>
<circle cx="522.60" cy="1242.90" r="5.0" fill="#e0ead6" stroke="#22a84a" stroke-width="1" fill-opacity="0.85"/>
<circle cx="526.30" cy="1236.70" r="5.0" fill="#e0ead6" stroke="#22a84a" stroke-width="1" fill-opacity="0.85"/>
<circle cx="528.10" cy="1236.00" r="5.0" fill="#e0ead6" stroke="#22a84a" stroke-width="1" fill-opacity="0.85"/>
<circle cx="531.90" cy="1223.60" r="5.0" fill="#e0ead6" stroke="#22a84a" stroke-width="1" fill-opacity="0.85"/>
<circle cx="534.70" cy="1216.20" r="5.0" fill="#e0ead6" stroke="#22a84a" stroke-width="1" fill-opacity="0.85"/>
<circle cx="537.60" cy="1213.80" r="5.0" fill="#e0ead6" stroke="#22a84a" stroke-width="1" fill-opacity="0.85"/>
<circle cx="542.50" cy="1193.70" r="5.0" fill="#e0ead6" stroke="#22a84a" stroke-width="1" fill-opacity="0.85"/>
<circle cx="544.90" cy="1195.10" r="5.0" fill="#e0ead6" stroke="#22a84a" stroke-width="1" fill-opacity="0.85"/>
<circle cx="546.70" cy="1184.90" r="5.0" fill="#e0ead6" stroke="#22a84a" stroke-width="1" fill-opacity="0.85"/>
<circle cx="548.40" cy="1189.40" r="5.0" fill="#d5ddf2" stroke="#2a2af0" stroke-width="1" fill-opacity="0.85"/>
<circle cx="551.60" cy="1184.50" r="5.0" fill="#d5ddf2" stroke="#2a2af0" stroke-width="1" fill-opacity="0.85"/>
<circle cx="560.40" cy="1154.00" r="5.0" fill="#d5ddf2" stroke="#2a2af0" stroke-width="1" fill-opacity="0.85"/>
<circle cx="563.70" cy="1136.80" r="5.0" fill="#d5ddf2" stroke="#2a2af0" stroke-width="1" fill-opacity="0.85"/>
<circle cx="569.30" cy="1123.80" r="5.0" fill="#d5ddf2" stroke="#2a2af0" stroke-width="1" fill-opacity="0.85"/>
<polyline points="80.50,1428.03 85.54,1427.97 90.58,1427.90 95.62,1427.83 100.66,1427.76 105.71,1427.68 110.75,1427.60 115.79,1427.51 120.83,1427.42 125.87,1427.32 130.91,1427.22 135.95,1427.11 141.00,1426.99 146.04,1426.86 151.08,1426.73 156.12,1426.59 161.16,1426.44 166.20,1426.28 171.24,1426.11 176.28,1425.93 181.32,1425.74 186.37,1425.53 191.41,1425.32 196.45,1425.09 201.49,1424.84 206.53,1424.59 211.57,1424.31 216.61,1424.02 221.66,1423.71 226.70,1423.38 231.74,1423.03 236.78,1422.65 241.82,1422.26 246.86,1421.84 251.90,1421.39 256.94,1420.92 261.99,1420.41 267.03,1419.88 272.07,1419.31 277.11,1418.71 282.15,1418.07 287.19,1417.38 292.23,1416.66 297.27,1415.89 302.31,1415.07 307.36,1414.21 312.40,1413.28 317.44,1412.30 322.48,1411.26 327.52,1410.16 332.56,1408.98 337.60,1407.74 342.65,1406.41 347.69,1405.00 352.73,1403.51 357.77,1401.92 362.81,1400.23 367.85,1398.44 372.89,1396.53 377.93,1394.51 382.98,1392.36 388.02,1390.07 393.06,1387.65 398.10,1385.07 403.14,1382.33 408.18,1379.42 413.22,1376.33 418.26,1373.05 423.31,1369.56 428.35,1365.86 433.39,1361.92 438.43,1357.74 443.47,1353.30 448.51,1348.58 453.55,1343.57 458.59,1338.25 463.63,1332.59 468.68,1326.58 473.72,1320.20 478.76,1313.41 483.80,1306.21" fill="none" stroke="#e83030" stroke-width="1.1"/>
<polyline points="442.10,1356.17 443.35,1355.08 444.60,1353.97 445.85,1352.85 447.10,1351.71 448.35,1350.56 449.60,1349.39 450.85,1348.20 452.10,1346.99 453.35,1345.76 454.60,1344.52 455.85,1343.26 457.10,1341.97 458.35,1340.67 459.60,1339.35 460.85,1338.01 462.10,1336.65 463.35,1335.27 464.60,1333.87 465.85,1332.45 467.10,1331.01 468.35,1329.54 469.60,1328.06 470.85,1326.55 472.10,1325.02 473.35,1323.46 474.60,1321.88 475.85,1320.28 477.10,1318.66 478.35,1317.01 479.60,1315.33 480.85,1313.64 482.10,1311.91 483.35,1310.16 484.60,1308.38 485.85,1306.58 487.10,1304.75 488.35,1302.89 489.60,1301.01 490.85,1299.10 492.10,1297.16 493.35,1295.18 494.60,1293.18 495.85,1291.15 497.10,1289.09 498.35,1287.00 499.60,1284.88 500.85,1282.73 502.10,1280.54 503.35,1278.32 504.60,1276.07 505.85,1273.78 507.10,1271.46 508.35,1269.11 509.60,1266.72 510.85,1264.29 512.10,1261.83 513.35,1259.33 514.60,1256.80 515.85,1254.22 517.10,1251.61 518.35,1248.96 519.60,1246.27 520.85,1243.54 522.10,1240.76 523.35,1237.95 524.60,1235.10 525.85,1232.20 527.10,1229.26 528.35,1226.27 529.60,1223.24 530.85,1220.16 532.10,1217.04 533.35,1213.87 534.60,1210.66 535.85,1207.40 537.10,1204.08 538.35,1200.72 539.60,1197.31 540.85,1193.85 542.10,1190.33" fill="none" stroke="#7030a0" stroke-width="1.1"/>
<polyline points="499.70,1288.06 500.47,1286.81 501.23,1285.56 502.00,1284.29 502.76,1283.01 503.53,1281.72 504.30,1280.41 505.06,1279.10 505.83,1277.77 506.60,1276.43 507.36,1275.09 508.13,1273.72 508.89,1272.35 509.66,1270.96 510.43,1269.57 511.19,1268.16 511.96,1266.73 512.73,1265.30 513.49,1263.85 514.26,1262.39 515.02,1260.91 515.79,1259.43 516.56,1257.93 517.32,1256.41 518.09,1254.89 518.86,1253.35 519.62,1251.79 520.39,1250.23 521.15,1248.64 521.92,1247.05 522.69,1245.44 523.45,1243.82 524.22,1242.18 524.99,1240.52 525.75,1238.86 526.52,1237.17 527.28,1235.48 528.05,1233.77 528.82,1232.04 529.58,1230.30 530.35,1228.54 531.12,1226.77 531.88,1224.98 532.65,1223.17 533.41,1221.35 534.18,1219.51 534.95,1217.66 535.71,1215.79 536.48,1213.90 537.25,1212.00 538.01,1210.08 538.78,1208.15 539.54,1206.19 540.31,1204.22 541.08,1202.23 541.84,1200.23 542.61,1198.20 543.38,1196.16 544.14,1194.10 544.91,1192.02 545.67,1189.93 546.44,1187.81 547.21,1185.68 547.97,1183.53 548.74,1181.35 549.51,1179.16 550.27,1176.95 551.04,1174.72 551.80,1172.47 552.57,1170.21 553.34,1167.92 554.10,1165.61 554.87,1163.28 555.64,1160.93 556.40,1158.55 557.17,1156.16 557.93,1153.75 558.70,1151.31 559.47,1148.86 560.23,1146.38 561.00,1143.88" fill="none" stroke="#22a84a" stroke-width="1.1"/>
<polyline points="548.60,1189.66 548.88,1188.83 549.17,1187.99 549.45,1187.15 549.73,1186.31 550.01,1185.47 550.30,1184.62 550.58,1183.77 550.86,1182.91 551.14,1182.06 551.43,1181.20 551.71,1180.33 551.99,1179.47 552.27,1178.60 552.56,1177.73 552.84,1176.85 553.12,1175.97 553.40,1175.09 553.69,1174.21 553.97,1173.32 554.25,1172.43 554.53,1171.54 554.82,1170.64 555.10,1169.74 555.38,1168.84 555.66,1167.93 555.95,1167.02 556.23,1166.11 556.51,1165.19 556.79,1164.28 557.08,1163.35 557.36,1162.43 557.64,1161.50 557.92,1160.57 558.21,1159.63 558.49,1158.70 558.77,1157.75 559.05,1156.81 559.34,1155.86 559.62,1154.91 559.90,1153.96 560.18,1153.00 560.47,1152.04 560.75,1151.07 561.03,1150.10 561.31,1149.13 561.60,1148.16 561.88,1147.18 562.16,1146.20 562.44,1145.21 562.73,1144.23 563.01,1143.23 563.29,1142.24 563.57,1141.24 563.86,1140.24 564.14,1139.23 564.42,1138.22 564.70,1137.21 564.99,1136.19 565.27,1135.17 565.55,1134.15 565.83,1133.12 566.12,1132.09 566.40,1131.06 566.68,1130.02 566.96,1128.98 567.25,1127.94 567.53,1126.89 567.81,1125.84 568.09,1124.78 568.38,1123.72 568.66,1122.66 568.94,1121.59 569.22,1120.52 569.50,1119.45 569.79,1118.37 570.07,1117.29 570.35,1116.20 570.63,1115.11 570.92,1114.02 571.20,1112.92" fill="none" stroke="#1a1aee" stroke-width="2"/>
<rect x="171.60" y="1331.10" width="121.60" height="43.40" fill="#000" opacity="0.6" filter="url(#sh2)"/>
<rect x="169.40" y="1328.60" width="121.60" height="43.40" fill="#fff" stroke="#f0f0f0" stroke-width="0.6"/>
<text x="174.30" y="1346.00" font-size="15.3" fill="#ee1c1c" text-anchor="start" stroke="#ee1c1c" stroke-width="0.3" textLength="78.00" lengthAdjust="spacingAndGlyphs">RQI = 0.12 R</text>
<text x="252.80" y="1349.70" font-size="10" fill="#ee1c1c" text-anchor="start" stroke="#ee1c1c" stroke-width="0.3" textLength="12.00" lengthAdjust="spacingAndGlyphs">35</text>
<text x="265.60" y="1341.60" font-size="10" fill="#ee1c1c" text-anchor="start" stroke="#ee1c1c" stroke-width="0.3" textLength="20.00" lengthAdjust="spacingAndGlyphs">0.96</text>
<text x="197.10" y="1365.80" font-size="15.3" fill="#ee1c1c" text-anchor="start" stroke="#ee1c1c" stroke-width="0.3" textLength="65.00" lengthAdjust="spacingAndGlyphs">R² = 0.971</text>
<rect x="281.60" y="1256.10" width="120.80" height="41.40" fill="#000" opacity="0.6" filter="url(#sh2)"/>
<rect x="279.40" y="1253.60" width="120.80" height="41.40" fill="#fff" stroke="#f0f0f0" stroke-width="0.6"/>
<text x="284.80" y="1269.20" font-size="15.3" fill="#7030a0" text-anchor="start" stroke="#7030a0" stroke-width="0.3" textLength="78.00" lengthAdjust="spacingAndGlyphs">RQI = 0.12 R</text>
<text x="363.30" y="1272.90" font-size="10" fill="#7030a0" text-anchor="start" stroke="#7030a0" stroke-width="0.3" textLength="12.00" lengthAdjust="spacingAndGlyphs">35</text>
<text x="376.10" y="1264.80" font-size="10" fill="#7030a0" text-anchor="start" stroke="#7030a0" stroke-width="0.3" textLength="20.00" lengthAdjust="spacingAndGlyphs">0.95</text>
<text x="306.60" y="1288.30" font-size="15.3" fill="#7030a0" text-anchor="start" stroke="#7030a0" stroke-width="0.3" textLength="66.00" lengthAdjust="spacingAndGlyphs">R² = 0.996</text>
<rect x="349.10" y="1189.90" width="120.30" height="42.90" fill="#000" opacity="0.6" filter="url(#sh2)"/>
<rect x="346.90" y="1187.40" width="120.30" height="42.90" fill="#fff" stroke="#f0f0f0" stroke-width="0.6"/>
<text x="351.80" y="1204.00" font-size="15.3" fill="#22a84a" text-anchor="start" stroke="#22a84a" stroke-width="0.3" textLength="78.00" lengthAdjust="spacingAndGlyphs">RQI = 0.13 R</text>
<text x="430.30" y="1207.70" font-size="10" fill="#22a84a" text-anchor="start" stroke="#22a84a" stroke-width="0.3" textLength="12.00" lengthAdjust="spacingAndGlyphs">35</text>
<text x="443.10" y="1199.60" font-size="10" fill="#22a84a" text-anchor="start" stroke="#22a84a" stroke-width="0.3" textLength="20.00" lengthAdjust="spacingAndGlyphs">0.92</text>
<text x="374.20" y="1224.10" font-size="15.3" fill="#22a84a" text-anchor="start" stroke="#22a84a" stroke-width="0.3" textLength="65.00" lengthAdjust="spacingAndGlyphs">R² = 0.997</text>
<rect x="397.10" y="1111.90" width="126.10" height="42.20" fill="#000" opacity="0.6" filter="url(#sh2)"/>
<rect x="394.90" y="1109.40" width="126.10" height="42.20" fill="#fff" stroke="#f0f0f0" stroke-width="0.6"/>
<text x="399.90" y="1125.60" font-size="15.3" fill="#1f1fe8" text-anchor="start" stroke="#1f1fe8" stroke-width="0.3" textLength="78.00" lengthAdjust="spacingAndGlyphs">RQI = 0.10 R</text>
<text x="478.40" y="1129.30" font-size="10" fill="#1f1fe8" text-anchor="start" stroke="#1f1fe8" stroke-width="0.3" textLength="12.00" lengthAdjust="spacingAndGlyphs">35</text>
<text x="491.20" y="1121.20" font-size="10" fill="#1f1fe8" text-anchor="start" stroke="#1f1fe8" stroke-width="0.3" textLength="25.00" lengthAdjust="spacingAndGlyphs">0.985</text>
<text x="424.70" y="1145.20" font-size="15.3" fill="#1f1fe8" text-anchor="start" stroke="#1f1fe8" stroke-width="0.3" textLength="65.00" lengthAdjust="spacingAndGlyphs">R² = 0.995</text>
<line x1="80.40" y1="1059.00" x2="80.40" y2="1429.50" stroke="#0000ff" stroke-width="1.8"/>
<line x1="80.50" y1="1429.00" x2="633.40" y2="1429.00" stroke="#4848ec" stroke-width="1.5"/>
<line x1="75.70" y1="1429.00" x2="84.00" y2="1429.00" stroke="#0000ff" stroke-width="2"/>
<line x1="80.50" y1="1410.50" x2="84.00" y2="1410.50" stroke="#0000ff" stroke-width="1.6"/>
<line x1="80.50" y1="1392.00" x2="84.00" y2="1392.00" stroke="#0000ff" stroke-width="1.6"/>
<line x1="80.50" y1="1373.50" x2="84.00" y2="1373.50" stroke="#0000ff" stroke-width="1.6"/>
<line x1="75.70" y1="1355.00" x2="84.00" y2="1355.00" stroke="#0000ff" stroke-width="2"/>
<line x1="80.50" y1="1336.50" x2="84.00" y2="1336.50" stroke="#0000ff" stroke-width="1.6"/>
<line x1="80.50" y1="1318.00" x2="84.00" y2="1318.00" stroke="#0000ff" stroke-width="1.6"/>
<line x1="80.50" y1="1299.50" x2="84.00" y2="1299.50" stroke="#0000ff" stroke-width="1.6"/>
<line x1="75.70" y1="1281.00" x2="84.00" y2="1281.00" stroke="#0000ff" stroke-width="2"/>
<line x1="80.50" y1="1262.50" x2="84.00" y2="1262.50" stroke="#0000ff" stroke-width="1.6"/>
<line x1="80.50" y1="1244.00" x2="84.00" y2="1244.00" stroke="#0000ff" stroke-width="1.6"/>
<line x1="80.50" y1="1225.50" x2="84.00" y2="1225.50" stroke="#0000ff" stroke-width="1.6"/>
<line x1="75.70" y1="1207.00" x2="84.00" y2="1207.00" stroke="#0000ff" stroke-width="2"/>
<line x1="80.50" y1="1188.50" x2="84.00" y2="1188.50" stroke="#0000ff" stroke-width="1.6"/>
<line x1="80.50" y1="1170.00" x2="84.00" y2="1170.00" stroke="#0000ff" stroke-width="1.6"/>
<line x1="80.50" y1="1151.50" x2="84.00" y2="1151.50" stroke="#0000ff" stroke-width="1.6"/>
<line x1="75.70" y1="1133.00" x2="84.00" y2="1133.00" stroke="#0000ff" stroke-width="2"/>
<line x1="80.50" y1="1114.50" x2="84.00" y2="1114.50" stroke="#0000ff" stroke-width="1.6"/>
<line x1="80.50" y1="1096.00" x2="84.00" y2="1096.00" stroke="#0000ff" stroke-width="1.6"/>
<line x1="80.50" y1="1077.50" x2="84.00" y2="1077.50" stroke="#0000ff" stroke-width="1.6"/>
<line x1="75.70" y1="1059.00" x2="84.00" y2="1059.00" stroke="#0000ff" stroke-width="2"/>
<line x1="135.98" y1="1429.00" x2="135.98" y2="1425.50" stroke="#4848ec" stroke-width="1.1"/>
<line x1="168.43" y1="1429.00" x2="168.43" y2="1425.50" stroke="#4848ec" stroke-width="1.1"/>
<line x1="191.46" y1="1429.00" x2="191.46" y2="1425.50" stroke="#4848ec" stroke-width="1.1"/>
<line x1="209.32" y1="1429.00" x2="209.32" y2="1425.50" stroke="#4848ec" stroke-width="1.1"/>
<line x1="223.91" y1="1429.00" x2="223.91" y2="1425.50" stroke="#4848ec" stroke-width="1.1"/>
<line x1="236.25" y1="1429.00" x2="236.25" y2="1425.50" stroke="#4848ec" stroke-width="1.1"/>
<line x1="246.94" y1="1429.00" x2="246.94" y2="1425.50" stroke="#4848ec" stroke-width="1.1"/>
<line x1="256.37" y1="1429.00" x2="256.37" y2="1425.50" stroke="#4848ec" stroke-width="1.1"/>
<line x1="320.28" y1="1429.00" x2="320.28" y2="1425.50" stroke="#4848ec" stroke-width="1.1"/>
<line x1="352.73" y1="1429.00" x2="352.73" y2="1425.50" stroke="#4848ec" stroke-width="1.1"/>
<line x1="375.76" y1="1429.00" x2="375.76" y2="1425.50" stroke="#4848ec" stroke-width="1.1"/>
<line x1="393.62" y1="1429.00" x2="393.62" y2="1425.50" stroke="#4848ec" stroke-width="1.1"/>
<line x1="408.21" y1="1429.00" x2="408.21" y2="1425.50" stroke="#4848ec" stroke-width="1.1"/>
<line x1="420.55" y1="1429.00" x2="420.55" y2="1425.50" stroke="#4848ec" stroke-width="1.1"/>
<line x1="431.24" y1="1429.00" x2="431.24" y2="1425.50" stroke="#4848ec" stroke-width="1.1"/>
<line x1="440.67" y1="1429.00" x2="440.67" y2="1425.50" stroke="#4848ec" stroke-width="1.1"/>
<line x1="504.58" y1="1429.00" x2="504.58" y2="1425.50" stroke="#4848ec" stroke-width="1.1"/>
<line x1="537.03" y1="1429.00" x2="537.03" y2="1425.50" stroke="#4848ec" stroke-width="1.1"/>
<line x1="560.06" y1="1429.00" x2="560.06" y2="1425.50" stroke="#4848ec" stroke-width="1.1"/>
<line x1="577.92" y1="1429.00" x2="577.92" y2="1425.50" stroke="#4848ec" stroke-width="1.1"/>
<line x1="592.51" y1="1429.00" x2="592.51" y2="1425.50" stroke="#4848ec" stroke-width="1.1"/>
<line x1="604.85" y1="1429.00" x2="604.85" y2="1425.50" stroke="#4848ec" stroke-width="1.1"/>
<line x1="615.54" y1="1429.00" x2="615.54" y2="1425.50" stroke="#4848ec" stroke-width="1.1"/>
<line x1="624.97" y1="1429.00" x2="624.97" y2="1425.50" stroke="#4848ec" stroke-width="1.1"/>
<line x1="80.50" y1="1425.50" x2="80.50" y2="1434.00" stroke="#4848ec" stroke-width="1.5"/>
<line x1="264.80" y1="1425.50" x2="264.80" y2="1434.00" stroke="#4848ec" stroke-width="1.5"/>
<line x1="449.10" y1="1425.50" x2="449.10" y2="1434.00" stroke="#4848ec" stroke-width="1.5"/>
<line x1="633.40" y1="1425.50" x2="633.40" y2="1434.00" stroke="#4848ec" stroke-width="1.5"/>
<text x="66.40" y="1433.60" font-size="14" fill="#1f1fe8" text-anchor="end" stroke="#1f1fe8" stroke-width="0.3" textLength="26.30" lengthAdjust="spacingAndGlyphs">0.00</text>
<text x="66.40" y="1359.60" font-size="14" fill="#1f1fe8" text-anchor="end" stroke="#1f1fe8" stroke-width="0.3" textLength="26.30" lengthAdjust="spacingAndGlyphs">1.00</text>
<text x="66.40" y="1285.60" font-size="14" fill="#1f1fe8" text-anchor="end" stroke="#1f1fe8" stroke-width="0.3" textLength="26.30" lengthAdjust="spacingAndGlyphs">2.00</text>
<text x="66.40" y="1211.60" font-size="14" fill="#1f1fe8" text-anchor="end" stroke="#1f1fe8" stroke-width="0.3" textLength="26.30" lengthAdjust="spacingAndGlyphs">3.00</text>
<text x="66.40" y="1137.60" font-size="14" fill="#1f1fe8" text-anchor="end" stroke="#1f1fe8" stroke-width="0.3" textLength="26.30" lengthAdjust="spacingAndGlyphs">4.00</text>
<text x="66.40" y="1063.60" font-size="14" fill="#1f1fe8" text-anchor="end" stroke="#1f1fe8" stroke-width="0.3" textLength="26.30" lengthAdjust="spacingAndGlyphs">5.00</text>
<text x="62.80" y="1095.00" font-size="14" fill="#ee1c1c" text-anchor="middle" stroke="#ee1c1c" stroke-width="0.3" textLength="46.50" lengthAdjust="spacingAndGlyphs" transform="rotate(-90 62.80 1095.00)">V. Good</text>
<text x="62.80" y="1170.20" font-size="14" fill="#ee1c1c" text-anchor="middle" stroke="#ee1c1c" stroke-width="0.3" textLength="46.50" lengthAdjust="spacingAndGlyphs" transform="rotate(-90 62.80 1170.20)">V. Good</text>
<text x="62.80" y="1244.00" font-size="14" fill="#ee1c1c" text-anchor="middle" stroke="#ee1c1c" stroke-width="0.3" textLength="46.50" lengthAdjust="spacingAndGlyphs" transform="rotate(-90 62.80 1244.00)">V. Good</text>
<text x="62.80" y="1319.50" font-size="14" fill="#ee1c1c" text-anchor="middle" stroke="#ee1c1c" stroke-width="0.3" textLength="31.70" lengthAdjust="spacingAndGlyphs" transform="rotate(-90 62.80 1319.50)">Good</text>
<text x="62.80" y="1394.70" font-size="14" fill="#ee1c1c" text-anchor="middle" stroke="#ee1c1c" stroke-width="0.3" textLength="20.90" lengthAdjust="spacingAndGlyphs" transform="rotate(-90 62.80 1394.70)">Fair</text>
<text x="80.90" y="1453.20" font-size="14" fill="#1f1fe8" text-anchor="middle" stroke="#1f1fe8" stroke-width="0.3" textLength="19.40" lengthAdjust="spacingAndGlyphs">0.1</text>
<text x="175.20" y="1455.00" font-size="13.5" fill="#ee1c1c" text-anchor="middle" stroke="#ee1c1c" stroke-width="0.3" textLength="35.70" lengthAdjust="spacingAndGlyphs">Micro</text>
<text x="264.80" y="1453.20" font-size="14" fill="#1f1fe8" text-anchor="middle" stroke="#1f1fe8" stroke-width="0.3">1</text>
<text x="362.30" y="1455.00" font-size="13.5" fill="#ee1c1c" text-anchor="middle" stroke="#ee1c1c" stroke-width="0.3" textLength="34.30" lengthAdjust="spacingAndGlyphs">Meso</text>
<text x="449.20" y="1453.20" font-size="14" fill="#1f1fe8" text-anchor="middle" stroke="#1f1fe8" stroke-width="0.3" textLength="16.00" lengthAdjust="spacingAndGlyphs">10</text>
<text x="556.50" y="1455.00" font-size="13.5" fill="#ee1c1c" text-anchor="middle" stroke="#ee1c1c" stroke-width="0.3" textLength="39.80" lengthAdjust="spacingAndGlyphs">Macro</text>
<text x="633.50" y="1453.20" font-size="14" fill="#1f1fe8" text-anchor="middle" stroke="#1f1fe8" stroke-width="0.3" textLength="23.40" lengthAdjust="spacingAndGlyphs">100</text>
<text x="254.1" y="1476.4" font-size="13" font-weight="bold" fill="#1f1fe8" stroke="#1f1fe8" stroke-width="0.25" textLength="231" lengthAdjust="spacingAndGlyphs">Effective Pore Throat Radius, R<tspan font-size="9" dy="3.5">35</tspan><tspan dy="-3.5"> ( m)</tspan></text>
<text x="27.00" y="1276.40" font-size="13" fill="#1f1fe8" text-anchor="middle" font-weight="bold" stroke="#1f1fe8" stroke-width="0.25" textLength="201.60" lengthAdjust="spacingAndGlyphs" transform="rotate(-90 27.00 1276.40)">Reservoir Quality Index, RQI ( m)</text>
<text x="361.90" y="1507.30" font-size="21.3" fill="#141414" text-anchor="middle" font-weight="bold" stroke="#141414" stroke-width="0.25">(c)</text>
</svg></body></html>
